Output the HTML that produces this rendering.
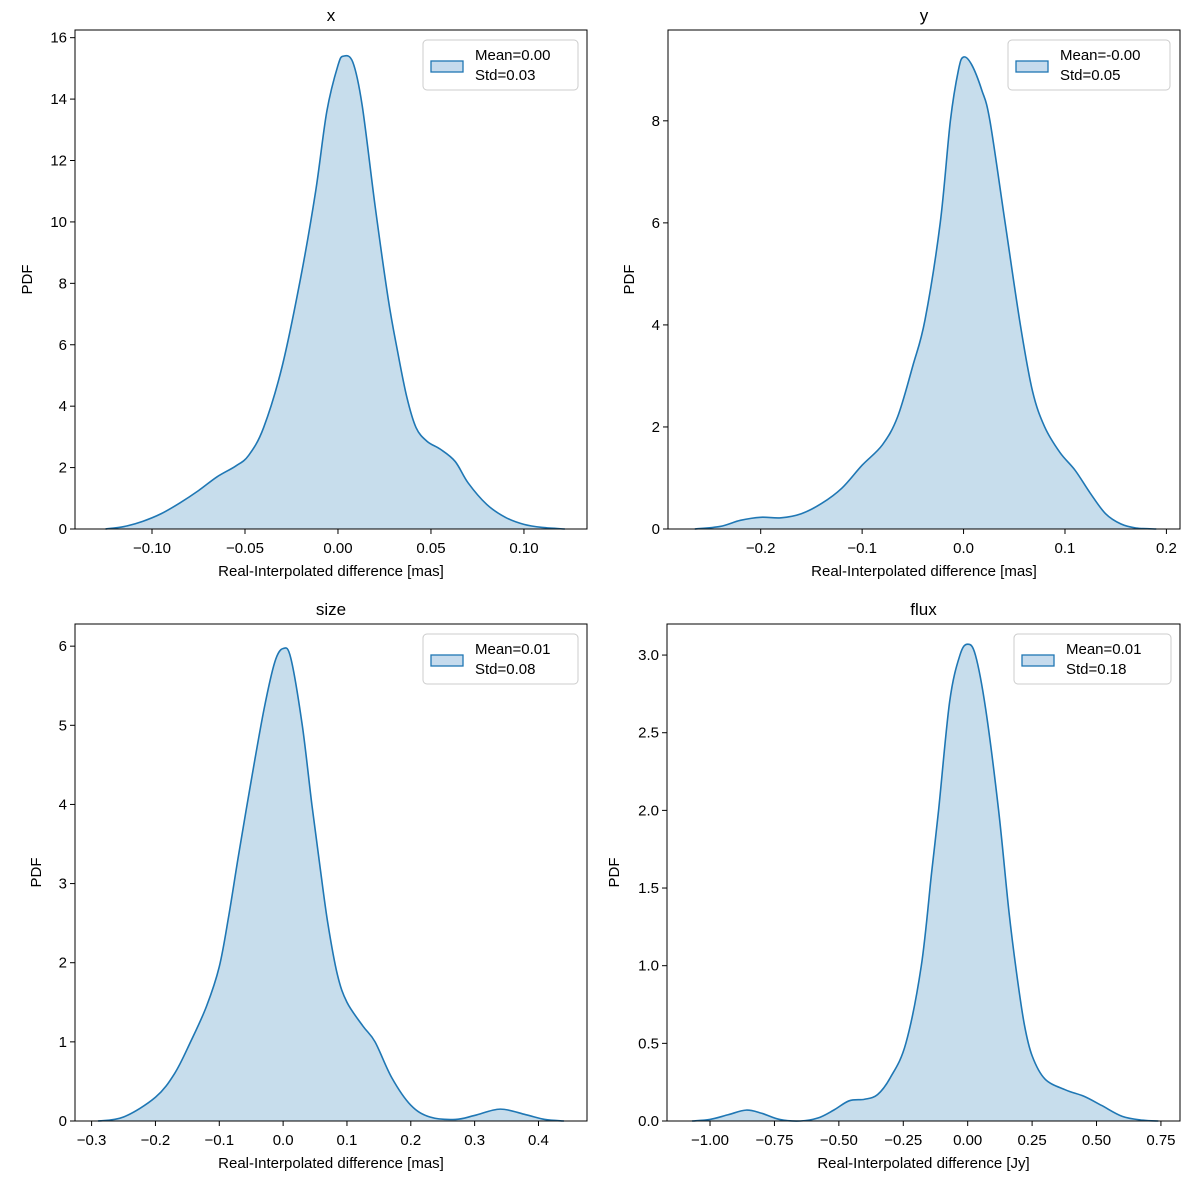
<!DOCTYPE html>
<html><head><meta charset="utf-8"><style>
body{margin:0;background:#fff;}
svg text{font-family:"Liberation Sans","DejaVu Sans",sans-serif;fill:#000;}
</style></head><body>
<svg id="fig" width="1200" height="1190" xmlns="http://www.w3.org/2000/svg"></svg>
<script>
// Panel x (top-left)
const xX=[-0.125,-0.115,-0.105,-0.095,-0.085,-0.075,-0.065,-0.055,-0.048,-0.04,-0.03,-0.02,-0.012,-0.006,0.0,0.003,0.008,0.013,0.02,0.027,0.032,0.037,0.042,0.048,0.055,0.063,0.07,0.08,0.09,0.1,0.11,0.122];
const xY=[0,0.08,0.25,0.5,0.85,1.25,1.7,2.05,2.4,3.3,5.3,8.2,11,13.6,15.1,15.4,15.2,13.8,10.5,7.5,5.8,4.3,3.3,2.85,2.6,2.2,1.5,0.8,0.38,0.15,0.05,0];
const xXTicks=[-0.10,-0.05,0.00,0.05,0.10];
const xXTickLabels=["−0.10","−0.05","0.00","0.05","0.10"];
const xYTicks=[0,2,4,6,8,10,12,14,16];
const xYTickLabels=["0","2","4","6","8","10","12","14","16"];
// Panel y (top-right)
const yX=[-0.265,-0.24,-0.22,-0.2,-0.18,-0.16,-0.14,-0.12,-0.1,-0.08,-0.065,-0.05,-0.038,-0.023,-0.013,-0.005,0.0,0.008,0.018,0.026,0.041,0.056,0.068,0.08,0.095,0.11,0.125,0.14,0.155,0.17,0.19];
const yY=[0,0.05,0.17,0.23,0.22,0.3,0.5,0.8,1.25,1.65,2.2,3.2,4.1,6,8,9.0,9.25,9.1,8.6,8,6,4,2.7,2.0,1.5,1.15,0.7,0.3,0.1,0.02,0];
const yXTicks=[-0.2,-0.1,0.0,0.1,0.2];
const yXTickLabels=["−0.2","−0.1","0.0","0.1","0.2"];
const yYTicks=[0,2,4,6,8];
const yYTickLabels=["0","2","4","6","8"];
// Panel size (bottom-left)
const sX=[-0.29,-0.25,-0.2,-0.17,-0.145,-0.12,-0.1,-0.085,-0.07,-0.05,-0.03,-0.013,0.0,0.012,0.03,0.045,0.058,0.07,0.085,0.1,0.125,0.144,0.17,0.2,0.23,0.27,0.3,0.34,0.38,0.41,0.44];
const sY=[0,0.05,0.3,0.6,1.0,1.45,1.95,2.6,3.35,4.3,5.2,5.8,5.97,5.85,5.0,4.0,3.2,2.5,1.85,1.5,1.2,1.0,0.55,0.2,0.05,0.02,0.07,0.15,0.08,0.02,0];
const sXTicks=[-0.3,-0.2,-0.1,0.0,0.1,0.2,0.3,0.4];
const sXTickLabels=["−0.3","−0.2","−0.1","0.0","0.1","0.2","0.3","0.4"];
const sYTicks=[0,1,2,3,4,5,6];
const sYTickLabels=["0","1","2","3","4","5","6"];
// Panel flux (bottom-right)
const fX=[-1.07,-1.0,-0.93,-0.86,-0.8,-0.73,-0.65,-0.58,-0.52,-0.46,-0.4,-0.35,-0.3,-0.24,-0.18,-0.14,-0.113,-0.07,-0.03,0.0,0.03,0.07,0.12,0.16,0.19,0.22,0.25,0.3,0.38,0.45,0.52,0.6,0.68,0.74];
const fY=[0,0.01,0.04,0.07,0.05,0.01,0,0.02,0.07,0.13,0.14,0.17,0.28,0.5,1.0,1.6,2.0,2.7,3.0,3.07,3.0,2.65,2.0,1.35,0.95,0.62,0.42,0.27,0.2,0.16,0.1,0.03,0.005,0];
const fXTicks=[-1.0,-0.75,-0.5,-0.25,0.0,0.25,0.5,0.75];
const fXTickLabels=["−1.00","−0.75","−0.50","−0.25","0.00","0.25","0.50","0.75"];
const fYTicks=[0,0.5,1,1.5,2,2.5,3];
const fYTickLabels=["0.0","0.5","1.0","1.5","2.0","2.5","3.0"];

const NS="http://www.w3.org/2000/svg";
const fig=document.getElementById('fig');
function mk(tag,attrs,parent){const e=document.createElementNS(NS,tag);for(const k in attrs)e.setAttribute(k,attrs[k]);(parent||fig).appendChild(e);return e;}
function smooth(pts){let d="M"+pts[0][0]+","+pts[0][1];for(let i=0;i<pts.length-1;i++){const p0=pts[Math.max(0,i-1)],p1=pts[i],p2=pts[i+1],p3=pts[Math.min(pts.length-1,i+2)];const c1x=p1[0]+(p2[0]-p0[0])/6,c1y=p1[1]+(p2[1]-p0[1])/6,c2x=p2[0]-(p3[0]-p1[0])/6,c2y=p2[1]-(p3[1]-p1[1])/6;d+=" C"+c1x+","+c1y+" "+c2x+","+c2y+" "+p2[0]+","+p2[1];}return d;}

function panel(o){
  const g=mk('g',{});
  
  
  const sx=v=>o.L+(v-o.xmin)/(o.xmax-o.xmin)*(o.R-o.L);
  const sy=v=>o.B-(v-0)/(o.ymax)*(o.B-o.T);
  const pts=o.xs.map((x,i)=>[sx(x),sy(o.ys[i])]);
  const line=smooth(pts);
  const area=mk('path',{d:line+" L"+sx(o.xs[o.xs.length-1])+","+sy(0)+" L"+sx(o.xs[0])+","+sy(0)+" Z",fill:"#1f77b4","fill-opacity":"0.25",stroke:"none"},g);
  
  
  const ln=mk('path',{d:line,fill:"none",stroke:"#1f77b4","stroke-width":"1.6"},g);
  
  
  const frame=mk('rect',{x:o.L,y:o.T,width:o.R-o.L,height:o.B-o.T,fill:"none",stroke:"#000","stroke-width":"1"},g);
  
  
  o.xt.forEach((v,i)=>{const x=sx(v);mk('line',{x1:x,x2:x,y1:o.B,y2:o.B+5,stroke:"#000"},g);
    const t=mk('text',{x:x,y:o.B+24,"font-size":"15","text-anchor":"middle"},g);t.textContent=o.xtl[i];
    
    });
  o.yt.forEach((v,i)=>{const y=sy(v);mk('line',{x1:o.L-5,x2:o.L,y1:y,y2:y,stroke:"#000"},g);
    const t=mk('text',{x:o.L-8,y:y+5,"font-size":"15","text-anchor":"end"},g);t.textContent=o.ytl[i];
    
    });
  const ti=mk('text',{x:(o.L+o.R)/2,y:o.T-9,"font-size":"17","text-anchor":"middle"},g);ti.textContent=o.title;
  
  
  const xl=mk('text',{x:(o.L+o.R)/2,y:o.B+47,"font-size":"15","text-anchor":"middle"},g);xl.textContent=o.xlabel;
  
  
  const yl=mk('text',{x:0,y:0,"font-size":"15","text-anchor":"middle",transform:"translate("+o.ylx+","+(o.T+o.B)/2+") rotate(-90)"},g);yl.textContent="PDF";
  
  
  const lg=mk('g',{},g);
  
  
  mk('rect',{x:o.lx,y:o.T+10,width:o.lw,height:50,rx:4,fill:"#fff","fill-opacity":"0.8",stroke:"#ccc"},lg);
  mk('rect',{x:o.lx+8,y:o.T+31,width:32,height:11,fill:"#c6dbed",stroke:"#1f77b4","stroke-width":"1.3"},lg);
  const t1=mk('text',{x:o.lx+52,y:o.T+30,"font-size":"15"},lg);t1.textContent=o.l1;
  const t2=mk('text',{x:o.lx+52,y:o.T+50,"font-size":"15"},lg);t2.textContent=o.l2;
}
panel({name:'x',L:75,R:587,T:30,B:529,xmin:-0.1414,xmax:0.1339,ymax:16.25,xs:xX,ys:xY,xt:xXTicks,xtl:xXTickLabels,yt:xYTicks,ytl:xYTickLabels,title:'x',xlabel:'Real-Interpolated difference [mas]',ylx:32,lx:423,lw:155,l1:'Mean=0.00',l2:'Std=0.03'});
panel({name:'y',L:668,R:1180,T:30,B:529,xmin:-0.2914,xmax:0.2134,ymax:9.78,xs:yX,ys:yY,xt:yXTicks,xtl:yXTickLabels,yt:yYTicks,ytl:yYTickLabels,title:'y',xlabel:'Real-Interpolated difference [mas]',ylx:634,lx:1008,lw:162,l1:'Mean=-0.00',l2:'Std=0.05'});
panel({name:'size',L:75,R:587,T:624,B:1121,xmin:-0.326,xmax:0.476,ymax:6.28,xs:sX,ys:sY,xt:sXTicks,xtl:sXTickLabels,yt:sYTicks,ytl:sYTickLabels,title:'size',xlabel:'Real-Interpolated difference [mas]',ylx:41,lx:423,lw:155,l1:'Mean=0.01',l2:'Std=0.08'});
panel({name:'flux',L:667,R:1180,T:624,B:1121,xmin:-1.167,xmax:0.824,ymax:3.2,xs:fX,ys:fY,xt:fXTicks,xtl:fXTickLabels,yt:fYTicks,ytl:fYTickLabels,title:'flux',xlabel:'Real-Interpolated difference [Jy]',ylx:619,lx:1014,lw:157,l1:'Mean=0.01',l2:'Std=0.18'});
</script>
</body></html>
